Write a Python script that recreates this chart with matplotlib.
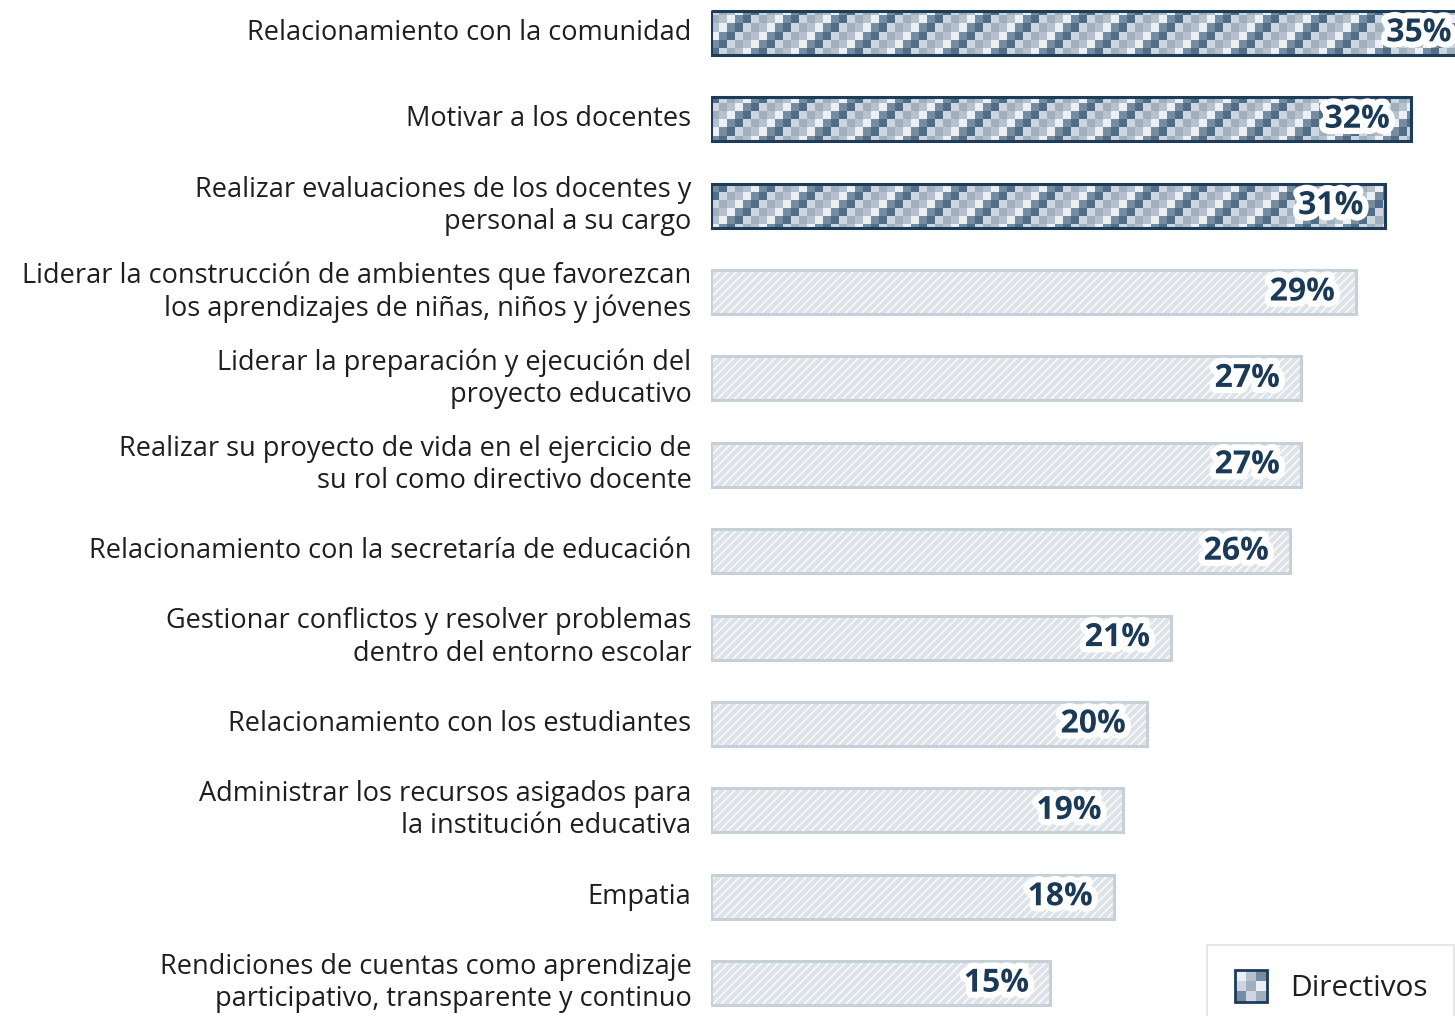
import numpy as np
import matplotlib
matplotlib.use("Agg")
import matplotlib.pyplot as plt
import matplotlib.patches as patches
import matplotlib.patheffects as pe
from matplotlib.legend_handler import HandlerBase

plt.rcParams['font.family'] = ['Open Sans', 'DejaVu Sans']

categories = [
    "Relacionamiento con la comunidad",
    "Motivar a los docentes",
    "Realizar evaluaciones de los docentes y\npersonal a su cargo",
    "Liderar la construcción de ambientes que favorezcan\nlos aprendizajes de niñas, niños y jóvenes",
    "Liderar la preparación y ejecución del\nproyecto educativo",
    "Realizar su proyecto de vida en el ejercicio de\nsu rol como directivo docente",
    "Relacionamiento con la secretaría de educación",
    "Gestionar conflictos y resolver problemas\ndentro del entorno escolar",
    "Relacionamiento con los estudiantes",
    "Administrar los recursos asigados para\nla institución educativa",
    "Empatia",
    "Rendiciones de cuentas como aprendizaje\nparticipativo, transparente y continuo",
]
values = [34.6, 31.8, 30.6, 29.3, 26.8, 26.8, 26.3, 20.9, 19.8, 18.7, 18.3, 15.4]
labels = ["35%", "32%", "31%", "29%", "27%", "27%", "26%", "21%", "20%", "19%", "18%", "15%"]
n_highlight = 3
series_name = "Directivos"

navy = "#1d3c5a"
shades = ["#526d88", "#768ca1", "#a0afbe", "#cdd5de", "#eceff3", "#b5c1cd"]

fig = plt.figure(figsize=(14.55, 10.16), dpi=100)
ax = fig.add_axes([711 / 1455, 0, 1 - 711 / 1455, 1])
xmax = 33.8
ax.set_xlim(0, xmax)
ax.set_ylim(11.38, -0.38)

y = np.arange(len(categories))
h = 0.51

# checker texture (8 px cells) used for the highlighted bars
ncols, nrows = 93, 127
cc, rr = np.meshgrid(np.arange(ncols), np.arange(nrows))
lvl = ((cc + rr) + 2 * ((cc - rr) % 2)) % 6
cmap = matplotlib.colors.ListedColormap(shades)

for i, (v, lab) in enumerate(zip(values, labels)):
    if i < n_highlight:
        bar = ax.barh(y[i], v, height=h, color="none", edgecolor=navy, linewidth=2.2, zorder=3)[0]
        im = ax.imshow(lvl, cmap=cmap, vmin=-0.5, vmax=5.5, extent=(0, xmax, 11.38, -0.38),
                       aspect="auto", interpolation="nearest", zorder=2)
        im.set_clip_path(bar)
    else:
        ax.barh(y[i], v, height=h, color="#dde3e8", edgecolor="white", hatch="////",
                linewidth=0, zorder=2)
        ax.barh(y[i], v, height=h, color="none", edgecolor="#c8d0d7", linewidth=2.2, zorder=3)
    ax.text(v - 0.95, y[i], lab, ha="right", va="center", fontsize=23, fontweight="bold",
            color="#1b3a57", zorder=5,
            path_effects=[pe.withStroke(linewidth=9, foreground="white")])

ax.set_yticks(y)
ax.set_yticklabels(categories, fontsize=19.5, color="#1e1e1e", linespacing=1.2, va="center")
ax.tick_params(axis="y", length=0, pad=14)
ax.tick_params(axis="x", bottom=False, labelbottom=False)
for s in ax.spines.values():
    s.set_visible(False)
ax.set_xticks([])


class CheckerHandler(HandlerBase):
    def create_artists(self, legend, orig_handle, xdescent, ydescent, width, height, fontsize, trans):
        side = min(width, height)
        x0 = -xdescent + (width - side) / 2
        y0 = -ydescent + (height - side) / 2
        arts = []
        cols = [["#768ca1", "#cdd5de", "#a0afbe"],
                ["#cdd5de", "#a0afbe", "#eceff3"],
                ["#eceff3", "#b5c1cd", "#768ca1"]]
        step = side / 3
        for r in range(3):
            for c in range(3):
                arts.append(patches.Rectangle((x0 + c * step, y0 + r * step), step, step,
                                              facecolor=cols[r][c], edgecolor="none", transform=trans))
        arts.append(patches.Rectangle((x0, y0), side, side, facecolor="none",
                                      edgecolor=navy, linewidth=2, transform=trans))
        return arts


handle = patches.Patch(label=series_name)
leg = ax.legend(handles=[handle], handler_map={patches.Patch: CheckerHandler()},
                loc="upper right", bbox_to_anchor=(0.998, 0.07), borderaxespad=0,
                fontsize=21.5, frameon=True, fancybox=False, borderpad=0.85,
                handlelength=1.25, handleheight=1.25, handletextpad=0.7)
leg.get_frame().set_edgecolor("#e0e0e0")
leg.get_frame().set_linewidth(1.5)
for t in leg.get_texts():
    t.set_color("#1e1e1e")

fig.savefig("out.png", dpi=100)
